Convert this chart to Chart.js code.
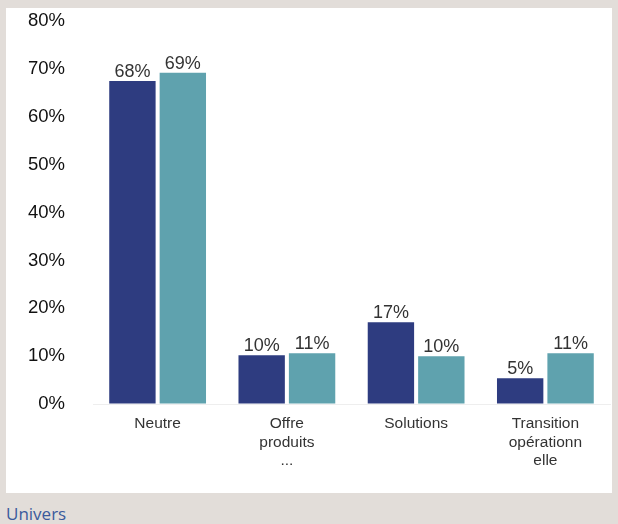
<!DOCTYPE html>
<html>
<head>
<meta charset="utf-8">
<script src="https://cdn.jsdelivr.net/npm/chart.js@4.4.1/dist/chart.umd.min.js"></script>
<style>
  html, body { margin: 0; padding: 0; }
  body { width: 618px; height: 524px; background: #e2ddd9; position: relative; overflow: hidden; }
  #panel { position: absolute; left: 6px; top: 8px; width: 606px; height: 485px; background: #fff; }
  #caption { position: absolute; left: 6px; top: 502px; font-family: "Open Sans", sans-serif; font-size: 17px; color: #3a5a9c; }
</style>
</head>
<body>
<div id="panel"><canvas id="chart" width="606" height="485"></canvas></div>
<div id="caption">Univers</div>
<script>
// Values (percent)
const categories = ['Neutre', ['Offre', 'produits', '...'], 'Solutions', ['Transition', 'opérationn', 'elle']];
const seriesA = [67.5, 10.2, 17.1, 5.4];
const seriesB = [69.2, 10.6, 10.0, 10.6];
const yTicks = [0, 10, 20, 30, 40, 50, 60, 70, 80];

// draw percentage labels above each bar
const barLabels = {
  id: 'barLabels',
  afterDatasetsDraw(chart) {
    const ctx = chart.ctx;
    ctx.save();
    ctx.font = '18px "Liberation Sans", Arial, sans-serif';
    ctx.fillStyle = '#333';
    ctx.textAlign = 'center';
    ctx.textBaseline = 'bottom';
    chart.data.datasets.forEach((ds, i) => {
      chart.getDatasetMeta(i).data.forEach((bar, j) => {
        ctx.fillText(Math.round(ds.data[j]) + '%', bar.x, bar.y);
      });
    });
    ctx.restore();
  }
};

new Chart(document.getElementById('chart'), {
  type: 'bar',
  data: {
    labels: categories,
    datasets: [
      { data: seriesA, backgroundColor: '#2e3c80' },
      { data: seriesB, backgroundColor: '#5fa2ae' }
    ]
  },
  options: {
    responsive: false,
    animation: false,
    categoryPercentage: 0.78,
    barPercentage: 0.92,
    layout: { padding: { top: 1, right: 2, left: 0, bottom: 0 } },
    plugins: { legend: { display: false }, tooltip: { enabled: false } },
    scales: {
      x: {
        afterFit(scale) { scale.height = 89; },
        grid: { display: false },
        border: { color: '#eeeeee' },
        ticks: {
          color: '#333',
          font: { family: '"Liberation Sans", Arial, sans-serif', size: 15.5, lineHeight: 1.18 },
          maxRotation: 0,
          autoSkip: false,
          padding: 3
        }
      },
      y: {
        min: 0,
        max: 80,
        afterBuildTicks(scale) { scale.ticks = yTicks.map(v => ({ value: v })); },
        afterFit(scale) { scale.width = 87; },
        grid: { display: true, drawOnChartArea: false, drawTicks: true, tickLength: 26, color: 'rgba(0,0,0,0)' },
        border: { display: false },
        ticks: {
          color: '#111',
          font: { family: '"Liberation Sans", Arial, sans-serif', size: 18.5 },
          padding: 2,
          callback: v => v + '%'
        }
      }
    }
  },
  plugins: [barLabels]
});
</script>
</body>
</html>
